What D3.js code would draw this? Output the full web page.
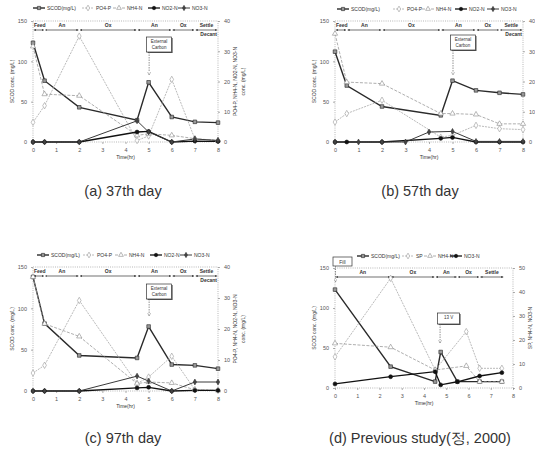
<!DOCTYPE html>
<html>
<head>
<meta charset="utf-8">
<script src="https://cdn.jsdelivr.net/npm/d3@7"></script>
<style>
  body { margin: 0; background: #fff; }
  svg { font-family: "Liberation Sans", Arial, sans-serif; }
  .tick text { font-size: 5.5px; fill: #555; }
  .tick line { stroke: #777; stroke-width: 0.6; }
  .domain { stroke: none; }
  .small { font-size: 5px; fill: #333; }
  .caption { font-size: 14.5px; fill: #333; }
</style>
</head>
<body>
<svg id="chart" width="535" height="459"></svg>
<script>
// ---- data ----
// (a) 37th day
const hoursA = [0, 0.5, 2, 4.5, 5, 6, 7, 8];
const scodA = [123, 76, 43, 27, 74, 31, 25, 24];
const po4A  = [6.5, 12, 35, 0.5, 2, 20.7, 1, 0.5];
const nh4A  = [31.6, 15.8, 15.3, 2.2, 2.7, 2.2, 1.1, 0.5];
const no2A  = [0, 0, 0, 3.3, 3.5, 0, 0.3, 0.2];
const no3A  = [0, 0, 0, 7, 3.3, 0, 1, 0.5];

// (b) 57th day
const hoursB  = [0, 0.5, 2, 4.5, 5, 6, 7, 8];
const hoursNB = [0, 1, 2, 3, 4, 5, 6, 7, 8];
const scodB = [112, 70, 44, 33, 76, 64, 61, 59];
const po4B  = [6.6, 9.4, 13.8, 1.6, 2.2, 5.5, 4.4, 4.1];
const nh4B  = [35.8, 19.8, 19.3, 9.4, 9.4, 9.1, 6, 6];
const no2B  = [0, 0, 0, 1.2, 1.5, 0, 0, 0];
const no3B  = [0, 0, 0, 0, 3.3, 3.5, 0.2, 0.2, 0.2];

// (c) 97th day
const hoursC = [0, 0.5, 2, 4.5, 5, 6, 7, 8];
const scodC = [138, 81.5, 43, 40, 78, 32, 31, 27];
const po4C  = [5.8, 8.3, 29.2, 2.4, 4.5, 11.2, 0.4, 0.2];
const nh4C  = [36.8, 21.7, 17.6, 2.4, 2.9, 2.6, 0.4, 0.2];
const no2C  = [0, 0, 0, 1, 1.2, 0, 0.2, 0.2];
const no3C  = [0, 0, 0, 4.8, 3.2, 0, 2.9, 2.9];

// (d) previous study
const hoursScodD = [0, 2.5, 4.5, 4.75, 5.5, 6.5, 7.5];
const hoursSpD   = [0, 2.5, 4.5, 5.9, 6.5, 7.5];
const scodD = [123, 26.7, 8, 45, 8, 8, 8];
const spD   = [13, 45.7, 7.5, 23.5, 8.2, 8.2];
const nh4D  = [18.6, 17, 7.5, 9.2, 2.6, 2.6];
const no3D  = [1.7, 4.7, 6.8, 1.3, 2.6, 5, 6.4];

// phases of the cycle
const phaseNames   = ["Feed", "An", "Ox", "An", "Ox", "Settle"];
const phaseBounds  = [0, 0.5, 2, 4.5, 6, 7, 8];
const phaseNamesD  = ["An", "Ox", "An", "Ox", "Settle"];
const phaseBoundsD = [0, 2.5, 4.5, 5.5, 6.5, 7.6];

const legendNames  = ["SCOD(mg/L)", "PO4-P", "NH4-N", "NO2-N", "NO3-N"];
const legendNamesD = ["SCOD(mg/L)", "SP", "NH4-N", "NO3-N"];
const captions = ["(a) 37th day", "(b) 57th day", "(c) 97th day", "(d) Previous study(정, 2000)"];

// ---- styles ----
const styles = {
  scod: { stroke: "#2a2a2a", width: 1.4, dash: null, sym: d3.symbolSquare, size: 13, fill: "#999", ms: "#222" },
  po4:  { stroke: "#a8a8a8", width: 0.8, dash: "2,1", sym: d3.symbolDiamond, size: 12, fill: "#fff", ms: "#999" },
  nh4:  { stroke: "#999", width: 0.8, dash: "3,1.5", sym: d3.symbolTriangle, size: 12, fill: "#fff", ms: "#888" },
  no2:  { stroke: "#111", width: 1.3, dash: null, sym: d3.symbolCircle, size: 12, fill: "#111", ms: "#111" },
  no3:  { stroke: "#3a3a3a", width: 1.0, dash: null, sym: d3.symbolDiamond, size: 10, fill: "#444", ms: "#333" }
};

const svg = d3.select("#chart");
const defs = svg.append("defs");
defs.append("marker")
  .attr("id", "arr")
  .attr("viewBox", "0 -5 10 10")
  .attr("refX", 10).attr("refY", 0)
  .attr("markerWidth", 3).attr("markerHeight", 3)
  .attr("orient", "auto-start-reverse")
  .append("path").attr("d", "M0,-5L10,0L0,5Z").attr("fill", "#333");
defs.append("marker")
  .attr("id", "down")
  .attr("viewBox", "0 -5 10 10")
  .attr("refX", 10).attr("refY", 0)
  .attr("markerWidth", 5).attr("markerHeight", 5)
  .attr("orient", "auto")
  .append("path").attr("d", "M0,-5L10,0L0,5Z").attr("fill", "#fff").attr("stroke", "#666").attr("stroke-width", 1.2);

const panels = [
  {
    left: 33, right: 218, top: 21, bottom: 142, rMax: 40,
    legendY: 8, legendX: [33, 82, 113, 148, 178],
    names: legendNames, keys: ["scod", "po4", "nh4", "no2", "no3"],
    series: [
      { key: "scod", xs: hoursA, ys: scodA, axis: "L" },
      { key: "po4", xs: hoursA, ys: po4A, axis: "R" },
      { key: "nh4", xs: hoursA, ys: nh4A, axis: "R" },
      { key: "no2", xs: hoursA, ys: no2A, axis: "R" },
      { key: "no3", xs: hoursA, ys: no3A, axis: "R" }
    ],
    phases: phaseNames, bounds: phaseBounds,
    box: { hour: 5, y: 37, label: ["External", "Carbon"], tip: 75 },
    rightLabel: ["PO4-P, NH4-N, NO2-N, NO3-N", "conc. (mg/L)"],
    caption: captions[0], capX: 123, capY: 196
  },
  {
    left: 335, right: 523, top: 21, bottom: 142, rMax: 40,
    legendY: 9, legendX: [337, 393, 422, 455, 487],
    names: legendNames, keys: ["scod", "po4", "nh4", "no2", "no3"],
    series: [
      { key: "scod", xs: hoursB, ys: scodB, axis: "L" },
      { key: "po4", xs: hoursB, ys: po4B, axis: "R" },
      { key: "nh4", xs: hoursB, ys: nh4B, axis: "R" },
      { key: "no2", xs: hoursB, ys: no2B, axis: "R" },
      { key: "no3", xs: hoursNB, ys: no3B, axis: "R" }
    ],
    phases: phaseNames, bounds: phaseBounds,
    box: { hour: 5, y: 35, label: ["External", "Carbon"], tip: 75 },
    rightLabel: null,
    caption: captions[1], capX: 420, capY: 196
  },
  {
    left: 33, right: 218, top: 267, bottom: 391, rMax: 40,
    legendY: 255, legendX: [37, 83, 115, 150, 180],
    names: legendNames, keys: ["scod", "po4", "nh4", "no2", "no3"],
    series: [
      { key: "scod", xs: hoursC, ys: scodC, axis: "L" },
      { key: "po4", xs: hoursC, ys: po4C, axis: "R" },
      { key: "nh4", xs: hoursC, ys: nh4C, axis: "R" },
      { key: "no2", xs: hoursC, ys: no2C, axis: "R" },
      { key: "no3", xs: hoursC, ys: no3C, axis: "R" }
    ],
    phases: phaseNames, bounds: phaseBounds,
    box: { hour: 5, y: 284, label: ["External", "Carbon"], tip: 316 },
    rightLabel: ["PO4-P, NH4-N, NO2-N, NO3-N", "conc. (mg/L)"],
    caption: captions[2], capX: 123, capY: 443
  },
  {
    left: 335, right: 513, top: 268, bottom: 388, rMax: 50,
    legendY: 256, legendX: [357, 402, 424, 450],
    names: legendNamesD, keys: ["scod", "po4", "nh4", "no2"],
    series: [
      { key: "scod", xs: hoursScodD, ys: scodD, axis: "L" },
      { key: "po4", xs: hoursSpD, ys: spD, axis: "R" },
      { key: "nh4", xs: hoursSpD, ys: nh4D, axis: "R" },
      { key: "no2", xs: hoursScodD, ys: no3D, axis: "R" }
    ],
    phases: phaseNamesD, bounds: phaseBoundsD,
    box: { hour: 4.7, y: 313, label: ["13 V"], tip: 343 },
    rightLabel: ["SP, NH4-N, NO3-N"],
    caption: captions[3], capX: 420, capY: 443
  }
];

function drawPanel(p, idx) {
  const g = svg.append("g").attr("class", "panel");
  const x = d3.scaleLinear().domain([0, 8]).range([p.left, p.right]);
  const yL = d3.scaleLinear().domain([0, 150]).range([p.bottom, p.top]);
  const yR = d3.scaleLinear().domain([0, p.rMax]).range([p.bottom, p.top]);

  // dotted frame
  g.append("rect")
    .attr("x", p.left).attr("y", p.top)
    .attr("width", p.right - p.left).attr("height", p.bottom - p.top)
    .attr("fill", "none").attr("stroke", "#999")
    .attr("stroke-width", 0.7).attr("stroke-dasharray", "1,1.2");

  g.append("g")
    .attr("transform", `translate(0,${p.bottom})`)
    .call(d3.axisBottom(x).ticks(8).tickSize(2).tickPadding(4));
  g.append("g")
    .attr("transform", `translate(${p.left},0)`)
    .call(d3.axisLeft(yL).tickValues([0, 50, 100, 150]).tickSize(2).tickPadding(4));
  g.append("g")
    .attr("transform", `translate(${p.right},0)`)
    .call(d3.axisRight(yR).ticks(p.rMax / 10).tickSize(2).tickPadding(4));

  // axis titles
  g.append("text").attr("class", "small")
    .attr("transform", `translate(${(p.left + p.right) / 2},${p.bottom + 17})`)
    .attr("text-anchor", "middle").text("Time(hr)");
  g.append("text").attr("class", "small")
    .attr("transform", `translate(${p.left - 19},${(p.top + p.bottom) / 2}) rotate(-90)`)
    .attr("text-anchor", "middle").text("SCOD conc. (mg/L)");
  if (p.rightLabel) {
    p.rightLabel.forEach((t, i) => {
      g.append("text").attr("class", "small")
        .attr("transform", `translate(${p.right + 19 + i * 8},${(p.top + p.bottom) / 2}) rotate(-90)`)
        .attr("text-anchor", "middle").text(t);
    });
  }

  // phase bar
  const barY = p.top + 9;
  p.phases.forEach((name, i) => {
    const x0 = x(p.bounds[i]), x1 = x(p.bounds[i + 1]);
    g.append("line")
      .attr("x1", x0 + 0.8).attr("x2", x1 - 0.8)
      .attr("y1", barY).attr("y2", barY)
      .attr("stroke", "#333").attr("stroke-width", 0.7)
      .attr("marker-start", "url(#arr)").attr("marker-end", "url(#arr)");
    g.append("text").attr("class", "small")
      .attr("x", name === "Feed" ? x0 + 1 : (x0 + x1) / 2)
      .attr("y", barY - 3)
      .attr("text-anchor", name === "Feed" ? "start" : "middle")
      .style("font-weight", "bold")
      .text(name);
  });
  if (p.phases[0] === "Feed") {
    g.append("text").attr("class", "small")
      .attr("x", p.right - 1).attr("y", barY + 6)
      .attr("text-anchor", "end").style("font-weight", "bold").text("Decant");
  }

  // annotation box with arrow
  const bx = x(p.box.hour);
  const bw = p.box.label.length > 1 ? 25 : 22;
  const bh = p.box.label.length > 1 ? 15 : 11;
  g.append("rect").attr("x", bx - 1).attr("y", p.box.y + 1)
    .attr("width", bw).attr("height", bh).attr("fill", "#555");
  g.append("rect").attr("x", bx - 2).attr("y", p.box.y)
    .attr("width", bw).attr("height", bh)
    .attr("fill", "#fff").attr("stroke", "#333").attr("stroke-width", 0.7);
  p.box.label.forEach((t, i) => {
    g.append("text").attr("class", "small")
      .attr("x", bx - 2 + bw / 2).attr("y", p.box.y + 6 + i * 6)
      .attr("text-anchor", "middle").style("font-size", "4.5px").text(t);
  });
  g.append("line")
    .attr("x1", bx + 0.5).attr("x2", bx + 0.5)
    .attr("y1", p.box.y + bh).attr("y2", p.box.tip)
    .attr("stroke", "#666").attr("stroke-width", 0.7)
    .attr("stroke-dasharray", "1.5,1").attr("marker-end", "url(#down)");

  // series lines
  const lineGen = d3.line().x(d => x(d[0])).y(d => d[1]);
  p.series.forEach(s => {
    const st = styles[s.key];
    const yy = s.axis === "L" ? yL : yR;
    const pts = s.xs.map((h, i) => [h, yy(s.ys[i])]);
    g.append("path")
      .attr("d", lineGen(pts))
      .attr("fill", "none")
      .attr("stroke", st.stroke)
      .attr("stroke-width", st.width)
      .attr("stroke-dasharray", st.dash);
  });
  // series markers
  p.series.forEach(s => {
    const st = styles[s.key];
    const yy = s.axis === "L" ? yL : yR;
    g.append("g").selectAll("path")
      .data(s.xs.map((h, i) => [h, s.ys[i]]))
      .enter().append("path")
      .attr("transform", d => `translate(${x(d[0])},${yy(d[1])})`)
      .attr("d", d3.symbol().type(st.sym).size(st.size))
      .attr("fill", st.fill).attr("stroke", st.ms).attr("stroke-width", 0.6);
  });

  // legend
  p.names.forEach((name, i) => {
    const st = styles[p.keys[i]];
    const lx = p.legendX[i];
    g.append("line")
      .attr("x1", lx).attr("x2", lx + 12)
      .attr("y1", p.legendY).attr("y2", p.legendY)
      .attr("stroke", st.stroke).attr("stroke-width", st.width)
      .attr("stroke-dasharray", st.dash);
    g.append("path")
      .attr("transform", `translate(${lx + 6},${p.legendY})`)
      .attr("d", d3.symbol().type(st.sym).size(st.size * 0.8))
      .attr("fill", st.fill).attr("stroke", st.ms).attr("stroke-width", 0.6);
    g.append("text").attr("class", "small")
      .attr("x", lx + 14).attr("y", p.legendY + 1.8)
      .text(name);
  });

  // caption
  svg.append("text").attr("class", "caption")
    .attr("x", p.capX).attr("y", p.capY)
    .attr("text-anchor", "middle").text(p.caption);
}

panels.forEach(drawPanel);

// extra labels of panel (d)
const pd = panels[3];
svg.append("rect").attr("x", 333).attr("y", 257).attr("width", 19).attr("height", 9)
  .attr("fill", "#fff").attr("stroke", "#333").attr("stroke-width", 0.7);
svg.append("text").attr("class", "small").attr("x", 342.5).attr("y", 263.5)
  .attr("text-anchor", "middle").text("Fill");
svg.append("line").attr("x1", 335.5).attr("x2", 335.5).attr("y1", 266).attr("y2", 282)
  .attr("stroke", "#666").attr("stroke-width", 0.7).attr("stroke-dasharray", "1.5,1")
  .attr("marker-end", "url(#down)");
</script>
</body>
</html>
